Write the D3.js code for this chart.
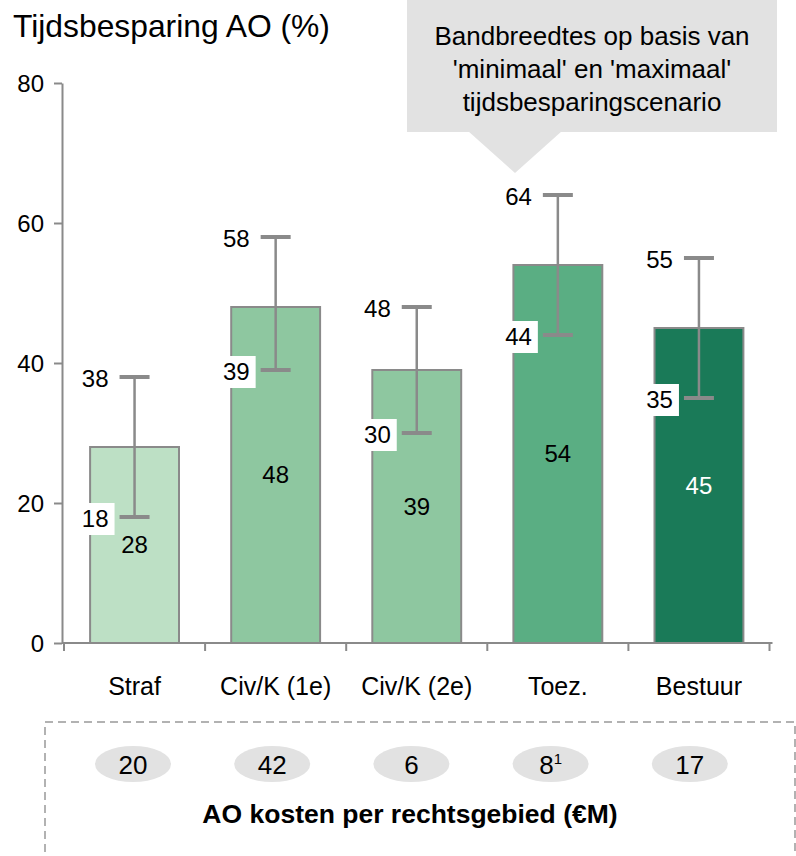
<!DOCTYPE html>
<html>
<head>
<meta charset="utf-8">
<script src="https://cdn.jsdelivr.net/npm/d3@7/dist/d3.min.js"></script>
<style>
  html, body { margin: 0; padding: 0; background: #fff; }
  svg { display: block; font-family: "Liberation Sans", Arial, sans-serif; }
</style>
</head>
<body>
<svg id="chart" width="796" height="856"></svg>
<script>
// Time savings per legal area (%), with min/max scenario band
const categories = ["Straf", "Civ/K (1e)", "Civ/K (2e)", "Toez.", "Bestuur"];
const meanValues = [28, 48, 39, 54, 45];
const minValues  = [18, 39, 30, 44, 35];
const maxValues  = [38, 58, 48, 64, 55];
const barColors  = ["#bde0c5", "#8ec7a0", "#8ec7a0", "#5aae83", "#1a7a58"];
const meanLabelColors = ["#000", "#000", "#000", "#000", "#fff"];
const yTicks = [0, 20, 40, 60, 80];
// AO costs per legal area (€M)
const costValues = ["20", "42", "6", "8", "17"];
const costNotes  = ["", "", "", "1", ""];

const svg = d3.select("#chart");
const x = d3.scaleBand().domain(categories).range([64, 769.5]).paddingInner(0.37).paddingOuter(0.185);
const y = d3.scaleLinear().domain([0, 80]).range([643, 83]);
const axisColor = "#8a8a8a";

// Title
svg.append("text").attr("x", 13).attr("y", 37)
  .attr("font-size", 31.8).attr("fill", "#000").text("Tijdsbesparing AO (%)");

// Y axis
const yAxis = svg.append("g").attr("transform", "translate(62,0)")
  .call(d3.axisLeft(y).tickValues(yTicks).tickSize(8).tickPadding(10).tickSizeOuter(0));
yAxis.select(".domain").attr("stroke", axisColor).attr("stroke-width", 2);
yAxis.selectAll(".tick line").attr("stroke", axisColor).attr("stroke-width", 2);
yAxis.selectAll(".tick text").attr("font-size", 24).attr("fill", "#000")
  .attr("font-family", "Liberation Sans, Arial, sans-serif").attr("dy", "0.35em");

// Bars
const idx = d3.range(categories.length);
svg.append("g").selectAll("rect").data(idx).join("rect")
  .attr("x", i => x(categories[i]))
  .attr("y", i => y(meanValues[i]))
  .attr("width", x.bandwidth())
  .attr("height", i => y(0) - y(meanValues[i]))
  .attr("fill", i => barColors[i])
  .attr("stroke", axisColor).attr("stroke-width", 2);

// X axis: baseline and boundary ticks
const step = x.step();
const x0 = x.range()[0];
svg.append("line").attr("x1", 62).attr("x2", x0 + step * categories.length + 3)
  .attr("y1", y(0)).attr("y2", y(0)).attr("stroke", axisColor).attr("stroke-width", 2);
svg.append("g").selectAll("line").data(d3.range(categories.length + 1)).join("line")
  .attr("x1", k => x0 + k * step).attr("x2", k => x0 + k * step)
  .attr("y1", y(0)).attr("y2", y(0) + 8)
  .attr("stroke", axisColor).attr("stroke-width", 2);
svg.append("g").selectAll("text").data(idx).join("text")
  .attr("x", i => x(categories[i]) + x.bandwidth() / 2)
  .attr("y", 695).attr("text-anchor", "middle")
  .attr("font-size", 25).attr("fill", "#000").text(i => categories[i]);

// Error bars
const cx = i => x(categories[i]) + x.bandwidth() / 2;
const eg = svg.append("g");
eg.selectAll("line.v").data(idx).join("line").attr("class", "v")
  .attr("x1", cx).attr("x2", cx)
  .attr("y1", i => y(maxValues[i])).attr("y2", i => y(minValues[i]))
  .attr("stroke", axisColor).attr("stroke-width", 2.5);
["max", "min"].forEach(kind => {
  const vals = kind === "max" ? maxValues : minValues;
  eg.selectAll("line.c" + kind).data(idx).join("line").attr("class", "c" + kind)
    .attr("x1", i => cx(i) - 15).attr("x2", i => cx(i) + 15)
    .attr("y1", i => y(vals[i])).attr("y2", i => y(vals[i]))
    .attr("stroke", axisColor).attr("stroke-width", 4);
});

// Min labels with white background
svg.append("g").selectAll("rect").data(idx).join("rect")
  .attr("x", i => cx(i) - 58).attr("y", i => y(minValues[i]) - 14)
  .attr("width", 38).attr("height", 32).attr("fill", "#fff");
svg.append("g").selectAll("text").data(idx).join("text")
  .attr("x", i => cx(i) - 26).attr("y", i => y(minValues[i]) + 2)
  .attr("dy", "0.35em").attr("text-anchor", "end")
  .attr("font-size", 24).attr("fill", "#000").text(i => minValues[i]);

// Max labels
svg.append("g").selectAll("text").data(idx).join("text")
  .attr("x", i => cx(i) - 26).attr("y", i => y(maxValues[i]) + 2)
  .attr("dy", "0.35em").attr("text-anchor", "end")
  .attr("font-size", 24).attr("fill", "#000").text(i => maxValues[i]);

// Mean labels in the middle of each bar
svg.append("g").selectAll("text").data(idx).join("text")
  .attr("x", cx).attr("y", i => (y(meanValues[i]) + y(0)) / 2)
  .attr("dy", "0.35em").attr("text-anchor", "middle")
  .attr("font-size", 24).attr("fill", i => meanLabelColors[i]).text(i => meanValues[i]);

// Callout
const callout = svg.append("g");
callout.append("rect").attr("x", 407).attr("y", 0).attr("width", 370).attr("height", 132).attr("fill", "#e2e2e2");
callout.append("path").attr("d", "M468,131 L562,131 L515,173 Z").attr("fill", "#e2e2e2");
["Bandbreedtes op basis van", "'minimaal' en 'maximaal'", "tijdsbesparingscenario"].forEach((t, k) => {
  callout.append("text").attr("x", 592).attr("y", 45 + k * 33)
    .attr("text-anchor", "middle").attr("font-size", 26).attr("fill", "#000").text(t);
});

// Cost box
svg.append("rect").attr("x", 45).attr("y", 722).attr("width", 750).attr("height", 160)
  .attr("fill", "none").attr("stroke", "#999").attr("stroke-width", 1.5).attr("stroke-dasharray", "8,5");
const costX = i => 133 + i * 139.2;
svg.append("g").selectAll("ellipse").data(idx).join("ellipse")
  .attr("cx", costX).attr("cy", 764).attr("rx", 38).attr("ry", 18).attr("fill", "#e2e2e2");
const ct = svg.append("g").selectAll("text").data(idx).join("text")
  .attr("x", costX).attr("y", 774).attr("text-anchor", "middle")
  .attr("font-size", 26).attr("fill", "#000");
ct.append("tspan").text(i => costValues[i]);
ct.append("tspan").attr("dy", -10).attr("font-size", 15).text(i => costNotes[i]);
svg.append("text").attr("x", 410).attr("y", 823).attr("text-anchor", "middle")
  .attr("font-size", 26.5).attr("font-weight", "bold").attr("fill", "#000")
  .text("AO kosten per rechtsgebied (€M)");
</script>
</body>
</html>
